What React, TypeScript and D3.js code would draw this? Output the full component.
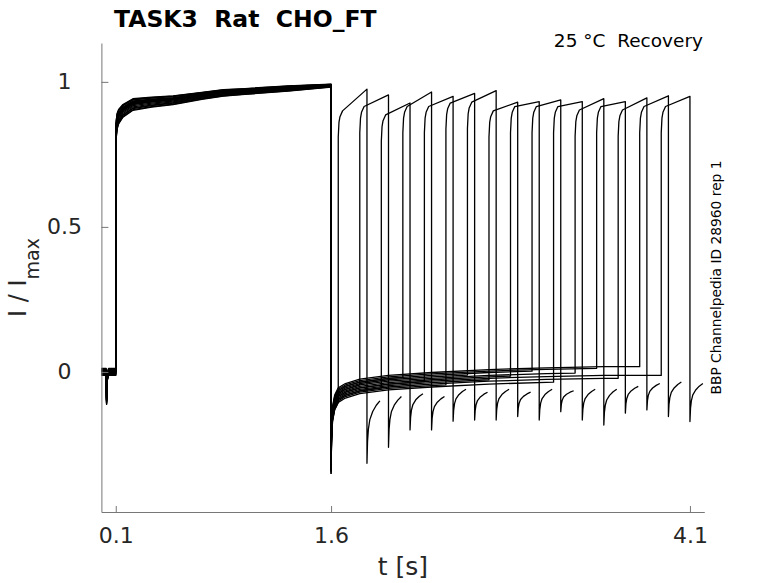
import * as d3 from "d3";
import React, { useEffect, useRef } from "react";

// recovery interval of each sweep (s after the end of the first pulse)
const recoveryDelays = [
  0.05, 0.2, 0.35, 0.5, 0.65, 0.8, 0.95, 1.1, 1.25, 1.4, 1.55, 1.7, 1.85, 2.0,
  2.15, 2.3,
];

// baseline before the first pulse (with the small artifact)
const baseTimes = [0, 0.033, 0.036, 0.04, 0.05, 0.1];
const baseLevels = [0, 0, -0.1, -0.02, 0, 0];

// first (conditioning) pulse: mean trace and sweep-to-sweep spread
const p1Times = [0.1, 0.104, 0.11, 0.12, 0.15, 0.22, 0.35, 0.5, 0.7, 0.85, 1.0, 1.3, 1.6];
const p1Levels = [0.8, 0.84, 0.865, 0.88, 0.9, 0.922, 0.93, 0.937, 0.952, 0.962, 0.967, 0.977, 0.987];
const p1Spread = [0.035, 0.03, 0.027, 0.025, 0.022, 0.02, 0.017, 0.015, 0.012, 0.011, 0.01, 0.009, 0.005];

// tail current after the first pulse
const tailTimes = [1.6, 1.603, 1.61, 1.625, 1.65, 1.7, 1.8, 2.0, 2.3, 2.7, 3.1, 3.5, 3.9];
const tailLevels = [-0.33, -0.22, -0.15, -0.11, -0.085, -0.07, -0.055, -0.042, -0.032, -0.022, -0.016, -0.012, -0.012];

// per-sweep deviations
const p1Offsets = [-1, 0.5, 0.2, -0.6, 1, 0.3, -0.2, 0.8, -0.9, 0.4, 0.6, -0.4, 0.1, 0.9, -0.7, 0];
const tailOffsets = [-0.02, 0.01, -0.01, 0.02, 0, -0.015, 0.015, -0.005, 0.005, 0.02, -0.02, 0.01, 0.025, -0.01, 0.03, 0];

// second (test) pulse per sweep
const p2Start = [0.9, 0.915, 0.886, 0.915, 0.915, 0.927, 0.93, 0.9, 0.915, 0.915, 0.915, 0.903, 0.915, 0.903, 0.915, 0.915];
const p2End = [0.975, 0.955, 0.927, 0.965, 0.95, 0.96, 0.97, 0.93, 0.932, 0.938, 0.932, 0.942, 0.932, 0.945, 0.952, 0.95];
const p2Min = [-0.315, -0.26, -0.2, -0.2, -0.17, -0.166, -0.166, -0.154, -0.166, -0.137, -0.166, -0.183, -0.142, -0.131, -0.154, -0.171];
const p2TailEnd = [-0.1, -0.085, -0.075, -0.085, -0.06, -0.07, -0.06, -0.07, -0.06, -0.065, -0.06, -0.06, -0.05, -0.04, -0.035, -0.04];

const p2Duration = 0.2;
const p2RiseTimes = [0, 0.005, 0.012, 0.03];
const p2RiseLift = [-0.09, -0.04, -0.02, 0];
const p2TailTimes = [0, 0.004, 0.01, 0.02, 0.04, 0.065, 0.09];
const p2TailFrac = [0, 0.35, 0.55, 0.7, 0.83, 0.93, 1];

const xTicks = [0.1, 1.6, 4.1];
const yTicks = [0, 0.5, 1];

const FONT = "DejaVu Sans, sans-serif";
const AXIS_COLOR = "#777";
const LABEL_COLOR = "#262626";

const App: React.FC = () => {
  const svgRef = useRef<SVGSVGElement>(null);

  useEffect(() => {
    if (!svgRef.current) return;
    const width = 778;
    const height = 583;
    const left = 101.4;
    const right = 704.3;
    const top = 43;
    const bottom = 512;

    const svg = d3.select(svgRef.current);
    svg.selectAll("*").remove();
    svg.attr("width", width).attr("height", height);

    const x = d3.scaleLinear().domain([0, 4.2]).range([left, right]);
    const y = d3.scaleLinear().domain([-0.483, 1.134]).range([bottom, top]);
    const tailAt = d3.scaleLinear().domain(tailTimes).range(tailLevels).clamp(true);

    // build sweeps
    const sweeps = recoveryDelays.map((delay, k) => {
      const pts: [number, number][] = [];
      const b = p1Offsets[k] * 0.012;
      baseTimes.forEach((t, i) => pts.push([t, baseLevels[i] + b]));
      p1Times.forEach((t, i) =>
        pts.push([t, p1Levels[i] + p1Offsets[k] * p1Spread[i]]),
      );
      const t2 = 1.6 + delay;
      tailTimes.forEach((t, i) => {
        if (t < t2) pts.push([t, tailLevels[i] + tailOffsets[k]]);
      });
      pts.push([t2, tailAt(t2) + tailOffsets[k]]);
      p2RiseTimes.forEach((t, i) => pts.push([t2 + t, p2Start[k] + p2RiseLift[i]]));
      const t3 = t2 + p2Duration;
      pts.push([t3, p2End[k]]);
      p2TailTimes.forEach((t, i) =>
        pts.push([t3 + t, p2Min[k] + (p2TailEnd[k] - p2Min[k]) * p2TailFrac[i]]),
      );
      return pts;
    });

    const line = d3
      .line<[number, number]>()
      .x((d) => x(d[0]))
      .y((d) => y(d[1]));

    svg
      .append("g")
      .selectAll("path")
      .data(sweeps)
      .join("path")
      .attr("d", (d) => line(d))
      .attr("fill", "none")
      .attr("stroke", "#000")
      .attr("stroke-width", 1.3)
      .attr("stroke-linejoin", "round");

    // x axis
    const xAxis = svg
      .append("g")
      .attr("transform", `translate(0,${bottom})`)
      .call(d3.axisBottom(x).tickValues(xTicks).tickFormat(d3.format(".1f")).tickSizeInner(-6).tickSizeOuter(0));
    xAxis.select(".domain").attr("stroke", AXIS_COLOR);
    xAxis.selectAll(".tick line").attr("stroke", AXIS_COLOR);
    xAxis
      .selectAll(".tick text")
      .attr("y", 15)
      .attr("dy", "0.71em")
      .attr("fill", LABEL_COLOR)
      .style("font-family", FONT)
      .style("font-size", "22px");

    // y axis
    const yAxis = svg
      .append("g")
      .attr("transform", `translate(${left},0)`)
      .call(d3.axisLeft(y).tickValues(yTicks).tickFormat(d3.format("~g")).tickSizeInner(-7).tickSizeOuter(0));
    yAxis.select(".domain").attr("stroke", AXIS_COLOR);
    yAxis.selectAll(".tick line").attr("stroke", AXIS_COLOR);
    yAxis
      .selectAll(".tick text")
      .attr("x", -37)
      .attr("text-anchor", "middle")
      .attr("fill", LABEL_COLOR)
      .style("font-family", FONT)
      .style("font-size", "22px");

    // axis labels
    svg
      .append("text")
      .attr("x", (left + right) / 2)
      .attr("y", 575)
      .attr("text-anchor", "middle")
      .attr("fill", LABEL_COLOR)
      .style("font-family", FONT)
      .style("font-size", "25px")
      .text("t [s]");

    const yl = svg
      .append("text")
      .attr("transform", `translate(26,${(top + bottom) / 2}) rotate(-90)`)
      .attr("text-anchor", "middle")
      .attr("fill", LABEL_COLOR)
      .style("font-family", FONT)
      .style("font-size", "24px")
      .style("white-space", "pre");
    yl.append("tspan").text("I / I");
    yl.append("tspan").attr("dy", 13).style("font-size", "19px").text("max");

    // title and notes
    svg
      .append("text")
      .attr("x", 114)
      .attr("y", 26.5)
      .attr("fill", "#000")
      .style("font-family", FONT)
      .style("font-size", "23.5px")
      .style("font-weight", "bold")
      .style("white-space", "pre")
      .text("TASK3  Rat  CHO_FT");

    svg
      .append("text")
      .attr("x", 703)
      .attr("y", 46.5)
      .attr("text-anchor", "end")
      .attr("fill", "#000")
      .style("font-family", FONT)
      .style("font-size", "18.5px")
      .style("white-space", "pre")
      .text("25 °C  Recovery");

    svg
      .append("text")
      .attr("transform", `translate(721,${(top + bottom) / 2}) rotate(-90)`)
      .attr("text-anchor", "middle")
      .attr("fill", "#000")
      .style("font-family", FONT)
      .style("font-size", "13.8px")
      .text("BBP Channelpedia ID 28960 rep 1");
  }, []);

  return (
    <svg
      ref={svgRef}
      style={{ position: "absolute", left: 0, top: 0, background: "#fff" }}
    />
  );
};

export default App;
